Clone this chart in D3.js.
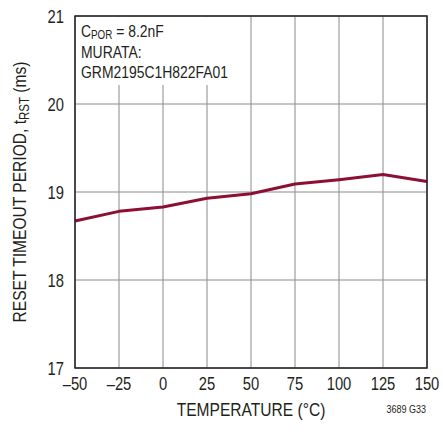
<!DOCTYPE html>
<html>
<head>
<meta charset="utf-8">
<script src="https://cdn.jsdelivr.net/npm/d3@7"></script>
<style>
  body { margin: 0; background: #fff; }
  text { font-family: "Liberation Sans", Arial, sans-serif; fill: #231f20; }
</style>
</head>
<body>
<script>
'use strict';

// chart data
const temps = [-50, -25, 0, 25, 50, 75, 100, 125, 150];
const resetPeriod = [18.67, 18.78, 18.83, 18.93, 18.98, 19.09, 19.14, 19.20, 19.12];
const xTicks = [-50, -25, 0, 25, 50, 75, 100, 125, 150];
const yTicks = [17, 18, 19, 20, 21];

(function() {
  const svg = d3.select('body').append('svg')
    .attr('width', 443)
    .attr('height', 438);

  const plot = {left: 75, right: 427, top: 16, bottom: 368};
  // horizontal squeeze to mimic the condensed face of the original
  const narrow = 0.82;

  const x = d3.scaleLinear().domain([-50, 150]).range([plot.left, plot.right]);
  const y = d3.scaleLinear().domain([17, 21]).range([plot.bottom, plot.top]);

  // place a condensed text at (px, py)
  function addText(parent, px, py, size, anchor, rotate) {
    return parent.append('text')
      .attr('transform', 'translate(' + px + ',' + py + ')' +
        (rotate ? 'rotate(' + rotate + ')' : '') + 'scale(' + narrow + ',1)')
      .attr('text-anchor', anchor || 'start')
      .style('font-size', size + 'px');
  }

  // grid
  svg.append('g')
    .selectAll('line')
    .data(xTicks)
    .enter().append('line')
      .attr('x1', d => x(d)).attr('x2', d => x(d))
      .attr('y1', plot.top).attr('y2', plot.bottom)
      .attr('stroke', '#8a8a8a')
      .attr('stroke-width', 1);

  svg.append('g')
    .selectAll('line')
    .data(yTicks)
    .enter().append('line')
      .attr('x1', plot.left).attr('x2', plot.right)
      .attr('y1', d => y(d)).attr('y2', d => y(d))
      .attr('stroke', '#8a8a8a')
      .attr('stroke-width', 1);

  // white box behind annotation
  svg.append('rect')
    .attr('x', plot.left + 1)
    .attr('y', plot.top + 1)
    .attr('width', 150)
    .attr('height', 68)
    .attr('fill', '#fff');

  // data line
  const line = d3.line()
    .x((d, i) => x(temps[i]))
    .y(d => y(d));

  svg.append('path')
    .datum(resetPeriod)
    .attr('fill', 'none')
    .attr('stroke', '#8c1034')
    .attr('stroke-width', 3)
    .attr('stroke-linejoin', 'round')
    .attr('d', line);

  // frame
  svg.append('rect')
    .attr('x', plot.left).attr('y', plot.top)
    .attr('width', plot.right - plot.left)
    .attr('height', plot.bottom - plot.top)
    .attr('fill', 'none')
    .attr('stroke', '#231f20')
    .attr('stroke-width', 1.5);

  // tick labels
  xTicks.forEach(d => {
    addText(svg, x(d), 390, 18, 'middle')
      .text(d < 0 ? '\u2013' + Math.abs(d) : d);
  });

  yTicks.forEach(d => {
    addText(svg, 64, y(d) + 6.5, 18, 'end').text(d);
  });

  // axis titles
  addText(svg, x(50), 416, 19, 'middle').text('TEMPERATURE (\u00b0C)');

  const yTitle = addText(svg, 26, (plot.top + plot.bottom) / 2, 19, 'middle', -90);
  yTitle.append('tspan').text('RESET TIMEOUT PERIOD, t');
  yTitle.append('tspan').attr('dy', 3).style('font-size', '14px').text('RST');
  yTitle.append('tspan').attr('dy', -3).text(' (ms)');

  // annotation
  const note = addText(svg, 81, 37, 17);
  note.append('tspan').text('C');
  note.append('tspan').attr('dy', 2).style('font-size', '12px').text('POR');
  note.append('tspan').attr('dy', -2).text(' = 8.2nF');

  addText(svg, 81, 58, 17).text('MURATA:');
  addText(svg, 81, 78, 17).text('GRM2195C1H822FA01');

  // figure id
  addText(svg, 426, 413, 11, 'end').text('3689 G33');
})();
</script>
</body>
</html>
